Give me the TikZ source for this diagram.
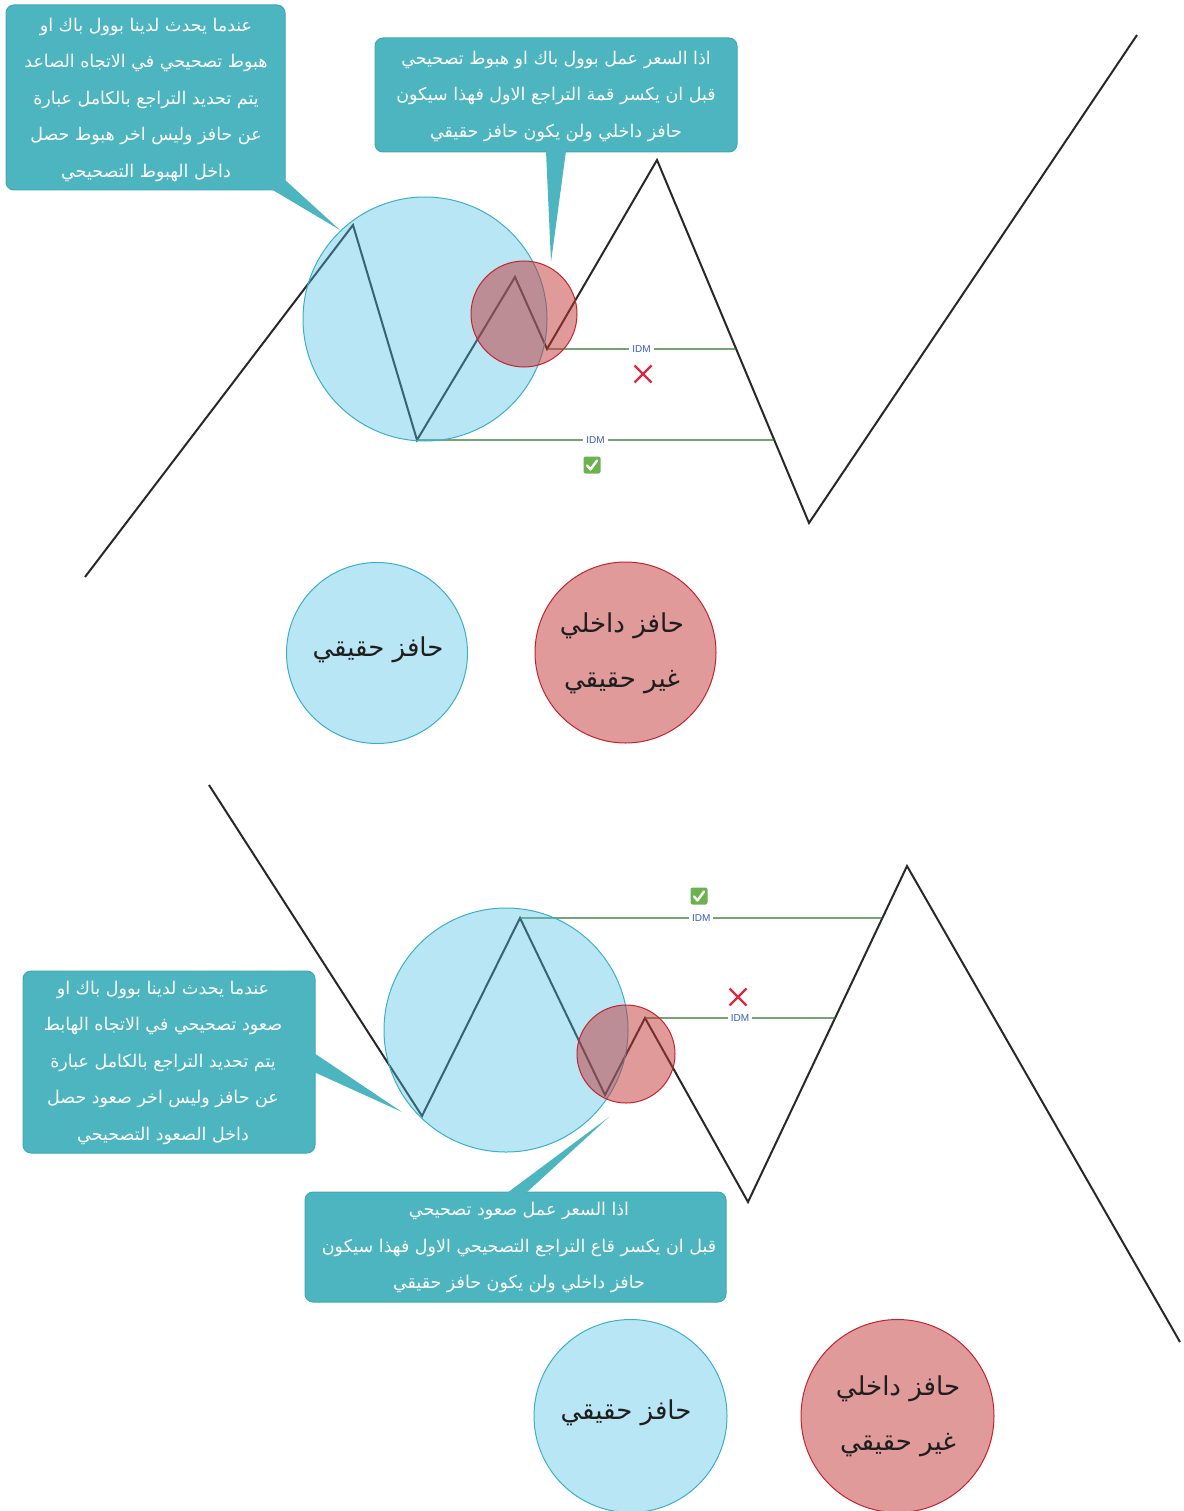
\documentclass[tikz,border=0pt]{standalone}
\usepackage{fontspec}
\setmainfont{DejaVu Sans}
\newfontfamily\arabicfont[Script=Arabic]{DejaVu Sans}
\newfontfamily\labelfont{Liberation Sans}
\TeXXeTstate=1
\usetikzlibrary{calc}
\newcommand\rl[1]{\beginR #1\endR}

\definecolor{calloutfill}{RGB}{77,181,192}
\definecolor{calloutedge}{RGB}{62,168,182}
\definecolor{zig}{RGB}{40,40,40}
\definecolor{realfill}{RGB}{77,192,230}
\definecolor{realedge}{RGB}{60,175,200}
\definecolor{realsoft}{RGB}{185,230,245}
\definecolor{fakefill}{RGB}{194,54,54}
\definecolor{fakeedge}{RGB}{195,35,45}
\definecolor{fakesoft}{RGB}{224,154,154}
\definecolor{idmline}{RGB}{45,115,45}
\definecolor{idmtext}{RGB}{60,90,180}
\definecolor{okgreen}{RGB}{108,178,78}
\definecolor{nored}{RGB}{222,40,64}
\definecolor{inktext}{RGB}{30,30,30}

\tikzset{
  zigzag/.style={draw=zig, line width=2pt, line join=miter},
  realzone/.style={circle, inner sep=0pt, fill=realfill, fill opacity=0.4, draw=realedge, line width=1pt},
  fakezone/.style={circle, inner sep=0pt, fill=fakefill, fill opacity=0.5, draw=fakeedge, line width=1pt},
  reallegend/.style={circle, inner sep=0pt, fill=realsoft, draw=realedge, line width=1pt},
  fakelegend/.style={circle, inner sep=0pt, fill=fakesoft, draw=fakeedge, line width=1pt},
  legendtext/.style={text=inktext, font={\arabicfont\fontsize{26}{55}\selectfont}, align=center, inner sep=0pt},
  idm/.style={draw=idmline, line width=1.1pt},
  idmlabel/.style={fill=white, text=idmtext, font={\labelfont\fontsize{10}{12}\selectfont}, inner sep=3pt},
  callout/.style={rectangle, rounded corners=8pt, fill=calloutfill, draw=calloutedge, line width=1pt, inner sep=0pt},
  callouttext/.style={text=white, font={\arabicfont\fontsize{17.5}{36.5}\selectfont}, align=center, inner sep=0pt},
  tail/.style={fill=calloutfill},
  okbox/.style={rectangle, rounded corners=2pt, fill=okgreen, minimum size=17pt, inner sep=0pt},
  nomark/.style={inner sep=0pt, minimum size=17pt},
  tick/.style={draw=white, line width=2.4pt, line cap=round, line join=round},
  cross/.style={draw=nored, line width=2.2pt}
}

\begin{document}
\begin{tikzpicture}[x=1pt, y=-1pt]
\useasboundingbox (0,0) rectangle (1183,1511);

% ---------- upper chart: rising trend ----------
\coordinate (a1) at (85,577);
\coordinate (a2) at (353,225);
\coordinate (a3) at (417,440);
\coordinate (a4) at (515,277);
\coordinate (a5) at (547,349);
\coordinate (a6) at (657,160);
\coordinate (a7) at (809,523);
\coordinate (a8) at (1137,35);
\coordinate (ae1) at ($(a6)!0.5207!(a7)$);
\coordinate (ae2) at ($(a6)!0.7713!(a7)$);

\draw[zigzag] (a1) -- (a2) -- (a3) -- (a4) -- (a5) -- (a6) -- (a7) -- (a8);
\draw[idm] (a5) -- node[idmlabel] (idmA) {IDM} (ae1);
\draw[idm] (a3) -- node[idmlabel] (idmB) {IDM} (ae2);

\node[realzone, minimum size=244pt] (realA) at (425,319) {};
\node[fakezone, minimum size=106pt] (fakeA) at (524,314) {};

\node[nomark] (noA) at (643,374) {};
\draw[cross] ($(noA)+(-8.5,-8.5)$) -- ($(noA)+(8.5,8.5)$);
\draw[cross] ($(noA)+(-8.5,8.5)$) -- ($(noA)+(8.5,-8.5)$);
\node[okbox] (okA) at (592,465) {};
\draw[tick] ($(okA)+(-5,0.5)$) -- ($(okA)+(-1.5,4.5)$) -- ($(okA)+(5,-4.5)$);

% callouts of the upper chart
\node[callout, minimum width=279pt, minimum height=185pt] (boxA) at (145.5,97.5) {};
\coordinate (tipA) at (340,230);
\fill[tail] (284,179) -- (tipA) -- (271,189) -- cycle;
\node[callouttext] (txtA) at (146,99.5) {\rl{عندما يحدث لدينا بوول باك او}\\\rl{هبوط تصحيحي في الاتجاه الصاعد}\\\rl{يتم تحديد التراجع بالكامل عبارة}\\\rl{عن حافز وليس اخر هبوط حصل}\\\rl{داخل الهبوط التصحيحي}};

\node[callout, minimum width=362pt, minimum height=114pt] (boxB) at (556,95) {};
\coordinate (tipB) at (551,262);
\fill[tail] (546,151) -- (tipB) -- (566,151) -- cycle;
\node[callouttext] (txtB) at (556,96) {\rl{اذا السعر عمل بوول باك او هبوط تصحيحي}\\\rl{قبل ان يكسر قمة التراجع الاول فهذا سيكون}\\\rl{حافز داخلي ولن يكون حافز حقيقي}};

% legend of the upper chart
\node[reallegend, minimum size=181pt] (legRealA) at (377,653) {};
\node[legendtext] (legRealAtxt) at (378,650) {\rl{حافز حقيقي}};
\node[fakelegend, minimum size=181pt] (legFakeA) at (625.5,652.5) {};
\node[legendtext] (legFakeAtxt) at (622,653) {\rl{حافز داخلي}\\\rl{غير حقيقي}};

% ---------- lower chart: falling trend ----------
\coordinate (b1) at (209,785);
\coordinate (b2) at (422,1116);
\coordinate (b3) at (520,918);
\coordinate (b4) at (605,1095);
\coordinate (b5) at (645,1018);
\coordinate (b6) at (748,1202);
\coordinate (b7) at (907,866);
\coordinate (b8) at (1180,1342);
\coordinate (be1) at ($(b6)!0.8452!(b7)$);
\coordinate (be2) at ($(b6)!0.5476!(b7)$);

\draw[zigzag] (b1) -- (b2) -- (b3) -- (b4) -- (b5) -- (b6) -- (b7) -- (b8);
\draw[idm] (b3) -- node[idmlabel] (idmC) {IDM} (be1);
\draw[idm] (b5) -- node[idmlabel] (idmD) {IDM} (be2);

\node[realzone, minimum size=244pt] (realB) at (506,1030) {};
\node[fakezone, minimum size=98pt] (fakeB) at (626,1054) {};

\node[okbox] (okB) at (699,896) {};
\draw[tick] ($(okB)+(-5,0.5)$) -- ($(okB)+(-1.5,4.5)$) -- ($(okB)+(5,-4.5)$);
\node[nomark] (noB) at (738,997) {};
\draw[cross] ($(noB)+(-8.5,-8.5)$) -- ($(noB)+(8.5,8.5)$);
\draw[cross] ($(noB)+(-8.5,8.5)$) -- ($(noB)+(8.5,-8.5)$);

% callouts of the lower chart
\node[callout, minimum width=292pt, minimum height=182pt] (boxC) at (169,1062) {};
\coordinate (tipC) at (402,1112);
\fill[tail] (314,1053) -- (tipC) -- (314,1072) -- cycle;
\node[callouttext] (txtC) at (163,1062.5) {\rl{عندما يحدث لدينا بوول باك او}\\\rl{صعود تصحيحي في الاتجاه الهابط}\\\rl{يتم تحديد التراجع بالكامل عبارة}\\\rl{عن حافز وليس اخر صعود حصل}\\\rl{داخل الصعود التصحيحي}};

\node[callout, minimum width=421pt, minimum height=110pt] (boxD) at (515.5,1247) {};
\coordinate (tipD) at (609,1117);
\fill[tail] (507,1193) -- (tipD) -- (526,1193) -- cycle;
\node[callouttext] (txtD) at (519,1247.5) {\rl{اذا السعر عمل صعود تصحيحي}\\\rl{قبل ان يكسر قاع التراجع التصحيحي الاول فهذا سيكون}\\\rl{حافز داخلي ولن يكون حافز حقيقي}};

% legend of the lower chart
\node[reallegend, minimum size=193pt] (legRealB) at (630.5,1416) {};
\node[legendtext] (legRealBtxt) at (626,1413) {\rl{حافز حقيقي}};
\node[fakelegend, minimum size=193pt] (legFakeB) at (897.5,1416) {};
\node[legendtext] (legFakeBtxt) at (898,1416) {\rl{حافز داخلي}\\\rl{غير حقيقي}};
\end{tikzpicture}
\end{document}
